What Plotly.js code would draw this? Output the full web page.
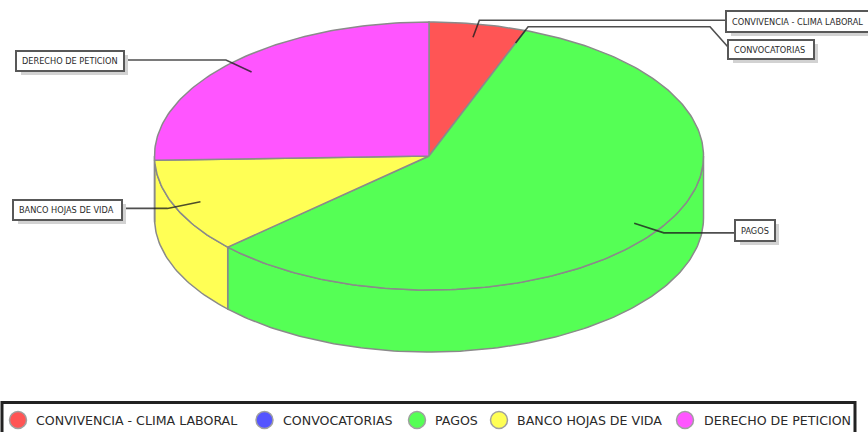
<!DOCTYPE html>
<html>
<head>
<meta charset="utf-8">
<script src="https://cdn.plot.ly/plotly-3.0.1.min.js"></script>
<style>html,body{margin:0;padding:0;background:#fff;overflow:hidden}#chart{width:868px;height:432px}</style>
</head>
<body>
<div id="chart"></div>
<script>
// Case counts by request type, as percentages of the total
const categories = ["CONVIVENCIA - CLIMA LABORAL", "CONVOCATORIAS", "PAGOS", "BANCO HOJAS DE VIDA", "DERECHO DE PETICION"];
const values = [5.7, 0, 57.4, 11.4, 25.5];
const colors = ["#ff5555", "#5555ff", "#55ff55", "#ffff55", "#ff55ff"];

// Pie geometry in plot units (the axes span the page one unit per pixel)
const cx = 429, cy = 156, rx = 274.5, ry = 134, depth = 62;
const edge = "#8a8a8a", ink = "#2a2a2a";

// Label boxes: left, right, top, bottom, plus the point where the leader meets the box
const boxes = [
  {x0: 726, x1: 890, y0: 11, y1: 32, jx: 726, jy: 20},
  {x0: 728, x1: 814, y0: 40, y1: 59, jx: 728, jy: 47, kneeX: 710},
  {x0: 735, x1: 775, y0: 220, y1: 241, jx: 735, jy: 231},
  {x0: 13, x1: 122, y0: 200, y1: 220, jx: 122, jy: 210},
  {x0: 16, x1: 124, y0: 51, y1: 71, jx: 124, jy: 61}
];
const legendMarkX = [18, 264.5, 417, 499, 685];
const legendTextX = [34, 281, 433, 515, 702];
const legendY = 420;

const total = values.reduce((a, b) => a + b, 0);
const px = (deg, r) => cx + Math.sin(deg * Math.PI / 180) * rx * r;
const py = (deg, r) => cy - Math.cos(deg * Math.PI / 180) * ry * r;
function arc(a0, a1, dy) {
  const n = Math.max(2, Math.ceil(Math.abs(a1 - a0)));
  const pts = [];
  for (let i = 0; i <= n; i++) {
    const a = a0 + (a1 - a0) * i / n;
    pts.push([px(a, 1), py(a, 1) + dy]);
  }
  return pts;
}
const poly = (pts, color, name) => ({
  type: "scatter", mode: "lines", fill: "toself", fillcolor: color, name, hoverinfo: "name",
  x: pts.map(p => p[0]), y: pts.map(p => p[1]),
  line: {color: edge, width: 1.5}, showlegend: false
});

// Running start and end angle of each slice, clockwise from twelve o'clock
let run = 0;
const slices = values.map((v, i) => {
  const a0 = run;
  run += v / total * 360;
  return {a0, a1: run, mid: (a0 + run) / 2, color: colors[i], name: categories[i]};
});

const traces = [];
// Outer wall, only the part of each slice that faces the viewer
slices.forEach(s => {
  const a0 = Math.max(s.a0, 90), a1 = Math.min(s.a1, 270);
  if (a1 <= a0) return;
  traces.push(poly(arc(a0, a1, 0).concat(arc(a1, a0, depth)).concat([[px(a0, 1), py(a0, 1)]]), s.color, s.name));
});
// Top face
slices.forEach(s => {
  if (s.a1 - s.a0 <= 0) return;
  traces.push(poly([[cx, cy]].concat(arc(s.a0, s.a1, 0)).concat([[cx, cy]]), s.color, s.name));
});
// Leader lines from inside each slice out to its label box
slices.forEach((s, i) => {
  const b = boxes[i];
  const ex = px(s.mid, 1.03), ey = py(s.mid, 1.03);
  const xs = [px(s.mid, 0.9), ex], ys = [py(s.mid, 0.9), ey];
  if (b.kneeX) { xs.push(b.kneeX, b.jx); ys.push(ey, b.jy); }
  else { xs.push(b.jx); ys.push(ey); }
  traces.push({
    type: "scatter", mode: "lines", x: xs, y: ys, hoverinfo: "skip", showlegend: false,
    line: {color: "rgba(30,30,30,0.78)", width: 1.6}
  });
});
// Legend swatches
traces.push({
  type: "scatter", mode: "markers", x: legendMarkX, y: legendMarkX.map(() => legendY),
  text: categories, hoverinfo: "text", showlegend: false,
  marker: {size: 17, color: colors, line: {color: "#a0a0a0", width: 1.5}}
});

const shapes = [];
const annotations = [];
boxes.forEach((b, i) => {
  shapes.push({type: "rect", xref: "x", yref: "y", x0: b.x0 + 5, x1: b.x1 + 4, y0: b.y0 + 4, y1: b.y1 + 4,
    fillcolor: "#d2d2d2", line: {width: 0}, layer: "above"});
  shapes.push({type: "rect", xref: "x", yref: "y", x0: b.x0, x1: b.x1, y0: b.y0, y1: b.y1,
    fillcolor: "#fff", line: {color: "#585858", width: 2}, layer: "above"});
  annotations.push({x: b.x0 + 4, y: (b.y0 + b.y1) / 2, xref: "x", yref: "y", xanchor: "left", yanchor: "middle",
    showarrow: false, text: categories[i], font: {family: "DejaVu Sans", size: 8.2, color: ink}});
  annotations.push({x: legendTextX[i], y: legendY, xref: "x", yref: "y", xanchor: "left", yanchor: "middle",
    showarrow: false, text: categories[i], font: {family: "DejaVu Sans", size: 12.6, color: ink}});
});
// Legend frame, its lower edge falls below the page
shapes.push({type: "rect", xref: "x", yref: "y", x0: 2, x1: 855, y0: 402.5, y1: 445,
  fillcolor: "rgba(0,0,0,0)", line: {color: "#222", width: 3}, layer: "below"});

Plotly.newPlot("chart", traces, {
  width: 868, height: 432, margin: {l: 0, r: 0, t: 0, b: 0},
  paper_bgcolor: "#fff", plot_bgcolor: "#fff", showlegend: false,
  xaxis: {range: [0, 868], visible: false, fixedrange: true},
  yaxis: {range: [432, 0], visible: false, fixedrange: true},
  shapes, annotations
}, {displayModeBar: false, staticPlot: true});
</script>
</body>
</html>
